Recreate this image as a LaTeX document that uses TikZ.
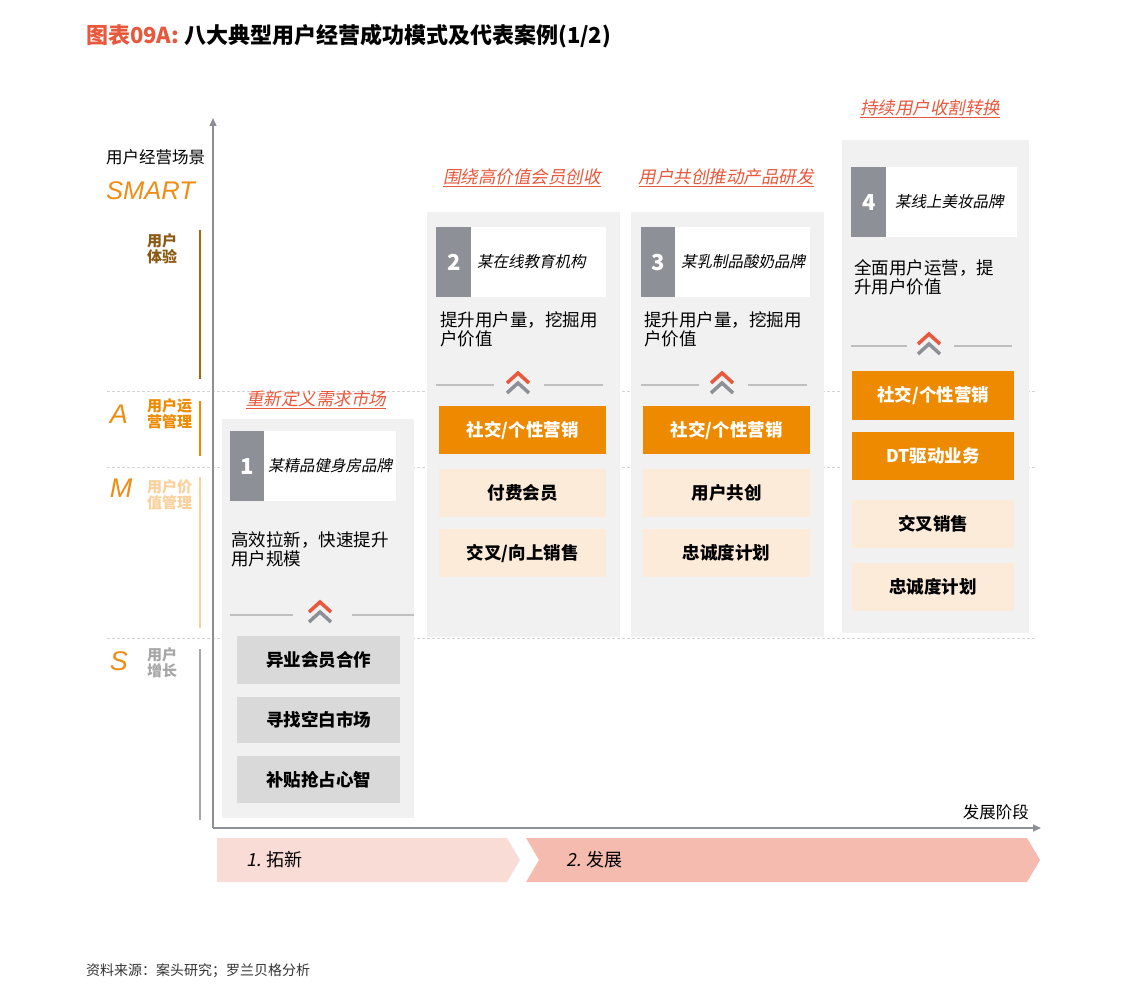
\documentclass[tikz,border=0pt]{standalone}
\usepackage{fontspec}
\usetikzlibrary{arrows.meta}
\setmainfont{Noto Sans CJK SC}
\newfontfamily\cjkit[FakeSlant=0.2]{Noto Sans CJK SC}
\newfontfamily\smartf{Liberation Sans}
\newcommand\fsz[2]{\fontsize{#1}{#2}\selectfont}
\definecolor{titlered}{HTML}{E8583C}
\definecolor{smartorange}{HTML}{EE8C14}
\definecolor{barbrown}{HTML}{A8660F}
\definecolor{txtbrown}{HTML}{8B5A12}
\definecolor{barorange}{HTML}{EE8A00}
\definecolor{barlight}{HTML}{FAD09B}
\definecolor{bargray}{HTML}{A6A6A6}
\definecolor{panelgray}{HTML}{F1F1F1}
\definecolor{boxgray}{HTML}{D9D9D9}
\definecolor{peach}{HTML}{FDEBDA}
\definecolor{numgray}{HTML}{8D9096}
\definecolor{axisgray}{HTML}{8C9096}
\definecolor{dashgray}{HTML}{D3D3D3}
\definecolor{divgray}{HTML}{BFBFBF}
\definecolor{stageone}{HTML}{F9DCD6}
\definecolor{stagetwo}{HTML}{F5BBAF}
\newcommand\boxat[7]{\node[#6, anchor=north west, minimum width=#4pt, minimum height=#5pt, inner sep=0pt] (#1) at (#2,#3) {#7};}
\newcommand\chev[2]{%
  \draw[titlered, line width=3.5pt] ({#1-11},{#2+11}) -- (#1,{#2+1}) -- ({#1+11},{#2+11});
  \draw[numgray, line width=3.5pt] ({#1-11},{#2+21}) -- (#1,{#2+11}) -- ({#1+11},{#2+21});}
\begin{document}
\begin{tikzpicture}[x=1pt,y=-1pt,
  panel/.style={fill=panelgray},
  card/.style={fill=white},
  numsq/.style={fill=numgray, text=white, font=\bfseries\fsz{22}{22}},
  orangebox/.style={fill=barorange, text=white, font=\bfseries\fsz{17.5}{17.5}},
  peachbox/.style={fill=peach, text=black, font=\bfseries\fsz{17.5}{17.5}},
  graybox/.style={fill=boxgray, text=black, font=\bfseries\fsz{17.5}{17.5}},
  collabel/.style={text=titlered, font=\cjkit\fsz{17.5}{17.5}, inner sep=0pt},
  cardtext/.style={anchor=west, font=\cjkit\fsz{15.5}{15.5}, inner sep=0pt},
  desc/.style={anchor=north west, align=left, font=\fsz{17.5}{19}, inner sep=0pt},
  sidelab/.style={anchor=north west, align=left, font=\bfseries\fsz{15}{16.5}, inner sep=0pt},
  letter/.style={font=\smartf\itshape\fsz{27}{27}, text=smartorange, inner sep=0pt},
  dline/.style={dashgray, line width=1pt, dash pattern=on 3pt off 2pt},
  divline/.style={divgray, line width=2pt},
  axis/.style={axisgray, line width=1.5pt, -{Triangle[width=7pt,length=8pt]}},
  bar/.style={line width=2pt}
]
\useasboundingbox[fill=white] (0,0) rectangle (1134,1000);

% title
\node[anchor=west, inner sep=0pt, font=\bfseries\fsz{22}{22}] (title) at (86,36) {\textcolor{titlered}{图表09A:} 八大典型用户经营成功模式及代表案例(1/2)};

% dashed level lines
\draw[dline] (107,391) -- (1037,391);
\draw[dline] (107,467) -- (1037,467);
\draw[dline] (107,638) -- (1037,638);

% left side labels
\node[anchor=west, inner sep=0pt, font=\fsz{16.5}{16.5}] (scene) at (106,157) {用户经营场景};
\node[letter, anchor=west, font=\smartf\itshape\fsz{25.5}{25.5}] (smart) at (106,191) {SMART};
\node[sidelab, text=txtbrown] (ux) at (147,233) {用户\\体验};
\node[letter] (la) at (119,414) {A};
\node[sidelab, text=barorange] (ops) at (147,398) {用户运\\营管理};
\node[letter] (lm) at (121,488) {M};
\node[sidelab, text=barlight] (val) at (147,479) {用户价\\值管理};
\node[letter] (ls) at (119,661) {S};
\node[sidelab, text=bargray] (grow) at (147,647) {用户\\增长};
\draw[bar, barbrown] (200,230) -- (200,379);
\draw[bar, barorange] (200,401) -- (200,456);
\draw[bar, barlight] (200,477) -- (200,628);
\draw[bar, bargray] (200,649) -- (200,820);

% axes
\coordinate (origin) at (213,828);
\coordinate (ytop) at (213,118);
\coordinate (xend) at (1041,828);
\draw[axis] (origin) -- (ytop);
\draw[axis] (origin) -- (xend);
\node[anchor=east, inner sep=0pt, font=\fsz{16.5}{16.5}] (stage) at (1029,812) {发展阶段};

% ---------- column 1
\boxat{p1}{222}{419}{192}{399}{panel}{}
\node[collabel] (l1) at (316,400) {\underline{重新定义需求市场}};
\boxat{c1}{230}{431}{166}{70}{card}{}
\boxat{n1}{230}{431}{34}{70}{numsq}{1}
\node[cardtext] (t1) at (268,466) {某精品健身房品牌};
\node[desc] (d1) at (231,531) {高效拉新，快速提升\\用户规模};
\draw[divline] (230,615) -- (293,615);
\draw[divline] (352,615) -- (414,615);
\chev{320}{601}
\boxat{b11}{237}{636}{163}{48}{graybox}{异业会员合作}
\boxat{b12}{237}{697}{163}{46}{graybox}{寻找空白市场}
\boxat{b13}{237}{756}{163}{47}{graybox}{补贴抢占心智}

% ---------- column 2
\boxat{p2}{427}{212}{193}{425}{panel}{}
\node[collabel] (l2) at (522,178) {\underline{围绕高价值会员创收}};
\boxat{c2}{436}{227}{170}{70}{card}{}
\boxat{n2}{436}{227}{35}{70}{numsq}{2}
\node[cardtext] (t2) at (477,262) {某在线教育机构};
\node[desc] (d2) at (440,311) {提升用户量，挖掘用\\户价值};
\draw[divline] (436,385) -- (494,385);
\draw[divline] (544,385) -- (603,385);
\chev{518}{372}
\boxat{b21}{439}{406}{167}{48}{orangebox}{社交/个性营销}
\boxat{b22}{439}{469}{167}{48}{peachbox}{付费会员}
\boxat{b23}{439}{529}{167}{48}{peachbox}{交叉/向上销售}

% ---------- column 3
\boxat{p3}{631}{212}{193}{425}{panel}{}
\node[collabel] (l3) at (726,178) {\underline{用户共创推动产品研发}};
\boxat{c3}{641}{227}{169}{70}{card}{}
\boxat{n3}{641}{227}{34}{70}{numsq}{3}
\node[cardtext] (t3) at (681,262) {某乳制品酸奶品牌};
\node[desc] (d3) at (644,311) {提升用户量，挖掘用\\户价值};
\draw[divline] (641,385) -- (699,385);
\draw[divline] (748,385) -- (807,385);
\chev{722}{372}
\boxat{b31}{643}{406}{167}{48}{orangebox}{社交/个性营销}
\boxat{b32}{643}{469}{167}{48}{peachbox}{用户共创}
\boxat{b33}{643}{529}{167}{48}{peachbox}{忠诚度计划}

% ---------- column 4
\boxat{p4}{842}{140}{187}{493}{panel}{}
\node[collabel] (l4) at (930,109) {\underline{持续用户收割转换}};
\boxat{c4}{851}{167}{166}{70}{card}{}
\boxat{n4}{851}{167}{35}{70}{numsq}{4}
\node[cardtext] (t4) at (895,202) {某线上美妆品牌};
\node[desc] (d4) at (854,259) {全面用户运营，提\\升用户价值};
\draw[divline] (851,346) -- (907,346);
\draw[divline] (954,346) -- (1012,346);
\chev{929}{333}
\boxat{b41}{852}{371}{162}{49}{orangebox}{社交/个性营销}
\boxat{b42}{852}{432}{162}{48}{orangebox}{DT驱动业务}
\boxat{b43}{852}{500}{162}{48}{peachbox}{交叉销售}
\boxat{b44}{852}{563}{162}{48}{peachbox}{忠诚度计划}

% ---------- stages
\fill[stageone] (217,838) -- (507,838) -- (520,860) -- (507,882) -- (217,882) -- cycle;
\fill[stagetwo] (526,838) -- (1027,838) -- (1040,860) -- (1027,882) -- (526,882) -- (539,860) -- cycle;
\node[anchor=west, inner sep=0pt, font=\fsz{18}{18}] (s1) at (246,860) {{\cjkit 1.} 拓新};
\node[anchor=west, inner sep=0pt, font=\fsz{18}{18}] (s2) at (566,860) {{\cjkit 2.} 发展};

% footer
\node[anchor=west, inner sep=0pt, font=\fsz{14}{14}, text=black!80] (src) at (86,971) {资料来源：案头研究；罗兰贝格分析};
\end{tikzpicture}
\end{document}
